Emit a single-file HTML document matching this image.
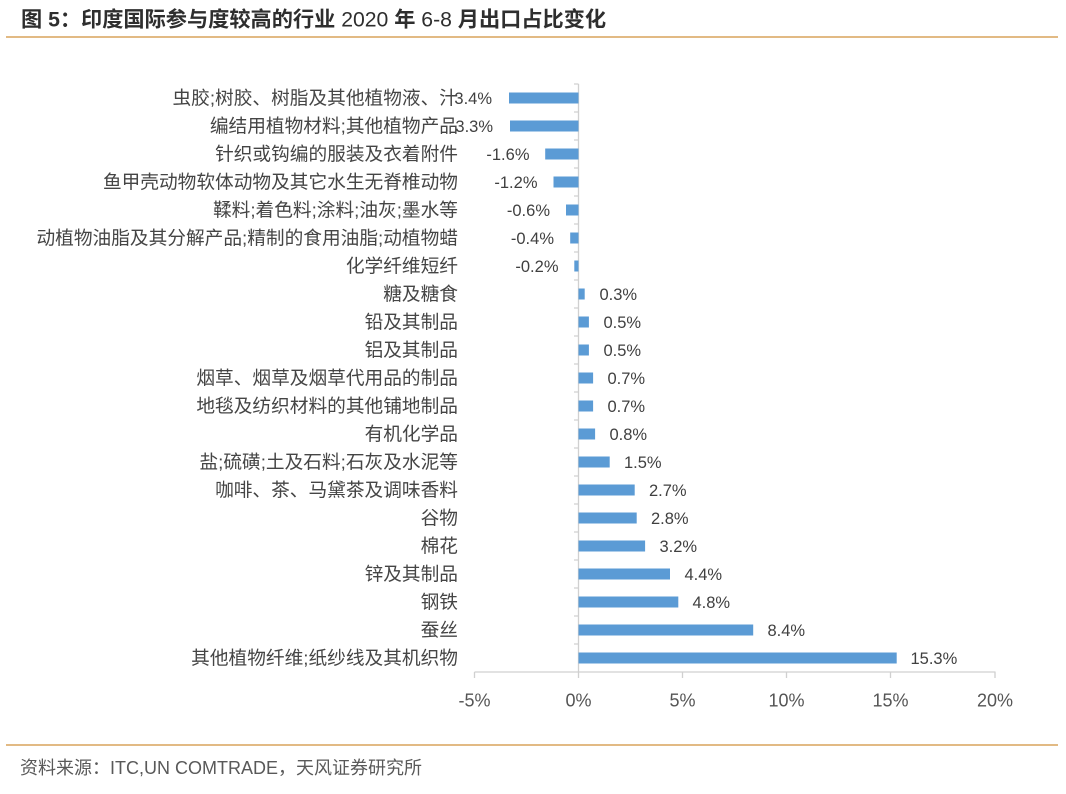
<!DOCTYPE html>
<html><head><meta charset="utf-8"><style>
html,body{margin:0;padding:0;background:#fff;}
svg{display:block;}
text{font-family:"Liberation Sans","Noto Sans CJK SC",sans-serif;}
</style></head><body>
<svg width="1066" height="794" viewBox="0 0 1066 794" xmlns="http://www.w3.org/2000/svg">
<rect width="1066" height="794" fill="#fff"/>
<text x="21" y="26.5" font-size="21.2" font-weight="bold" fill="#2e2e2e">图 5：印度国际参与度较高的行业 <tspan font-weight="normal">2020</tspan> 年 <tspan font-weight="normal">6-8</tspan> 月出口占比变化</text>
<line x1="6" y1="37" x2="1058" y2="37" stroke="#d9a45b" stroke-width="1.5"/>
<line x1="6" y1="745" x2="1058" y2="745" stroke="#d9a45b" stroke-width="1.5"/>
<text x="20" y="774" font-size="18" fill="#595959">资料来源：ITC,UN COMTRADE，天风证券研究所</text>

<!-- axes -->
<g stroke="#d0d0d0" stroke-width="1.3" fill="none">
<line x1="578.5" y1="84" x2="578.5" y2="672"/>
<line x1="474.5" y1="672" x2="995.5" y2="672"/>
<line x1="474.5" y1="672" x2="474.5" y2="678"/>
<line x1="578.5" y1="672" x2="578.5" y2="678"/>
<line x1="682.5" y1="672" x2="682.5" y2="678"/>
<line x1="786.5" y1="672" x2="786.5" y2="678"/>
<line x1="890.5" y1="672" x2="890.5" y2="678"/>
<line x1="995" y1="672" x2="995" y2="678"/>
<path d="M574 84H578.5M574 112H578.5M574 140H578.5M574 168H578.5M574 196H578.5M574 224H578.5M574 252H578.5M574 280H578.5M574 308H578.5M574 336H578.5M574 364H578.5M574 392H578.5M574 420H578.5M574 448H578.5M574 476H578.5M574 504H578.5M574 532H578.5M574 560H578.5M574 588H578.5M574 616H578.5M574 644H578.5"/>
</g>
<g font-size="18" fill="#555" text-anchor="middle">
<text x="474.5" y="706.5">-5%</text>
<text x="578.5" y="706.5">0%</text>
<text x="682.5" y="706.5">5%</text>
<text x="786.5" y="706.5">10%</text>
<text x="890.5" y="706.5">15%</text>
<text x="995" y="706.5">20%</text>
</g>

<!-- bars -->
<g fill="#5b9bd5">
<rect x="509.0" y="92.5" width="69.5" height="11"/>
<rect x="510.0" y="120.5" width="68.5" height="11"/>
<rect x="545.2" y="148.5" width="33.3" height="11"/>
<rect x="553.5" y="176.5" width="25" height="11"/>
<rect x="566.0" y="204.5" width="12.5" height="11"/>
<rect x="570.2" y="232.5" width="8.3" height="11"/>
<rect x="574.3" y="260.5" width="4.2" height="11"/>
<rect x="578.5" y="288.5" width="6.2" height="11"/>
<rect x="578.5" y="316.5" width="10.4" height="11"/>
<rect x="578.5" y="344.5" width="10.4" height="11"/>
<rect x="578.5" y="372.5" width="14.6" height="11"/>
<rect x="578.5" y="400.5" width="14.6" height="11"/>
<rect x="578.5" y="428.5" width="16.6" height="11"/>
<rect x="578.5" y="456.5" width="31.2" height="11"/>
<rect x="578.5" y="484.5" width="56.2" height="11"/>
<rect x="578.5" y="512.5" width="58.2" height="11"/>
<rect x="578.5" y="540.5" width="66.6" height="11"/>
<rect x="578.5" y="568.5" width="91.5" height="11"/>
<rect x="578.5" y="596.5" width="99.8" height="11"/>
<rect x="578.5" y="624.5" width="174.7" height="11"/>
<rect x="578.5" y="652.5" width="318.2" height="11"/>
</g>

<!-- category labels -->
<g font-size="18.7" fill="#454545" text-anchor="end">
<text x="458" y="104.4">虫胶;树胶、树脂及其他植物液、汁</text>
<text x="458" y="132.4">编结用植物材料;其他植物产品</text>
<text x="458" y="160.4">针织或钩编的服装及衣着附件</text>
<text x="458" y="188.4">鱼甲壳动物软体动物及其它水生无脊椎动物</text>
<text x="458" y="216.4">鞣料;着色料;涂料;油灰;墨水等</text>
<text x="458" y="244.4">动植物油脂及其分解产品;精制的食用油脂;动植物蜡</text>
<text x="458" y="272.4">化学纤维短纤</text>
<text x="458" y="300.4">糖及糖食</text>
<text x="458" y="328.4">铅及其制品</text>
<text x="458" y="356.4">铝及其制品</text>
<text x="458" y="384.4">烟草、烟草及烟草代用品的制品</text>
<text x="458" y="412.4">地毯及纺织材料的其他铺地制品</text>
<text x="458" y="440.4">有机化学品</text>
<text x="458" y="468.4">盐;硫磺;土及石料;石灰及水泥等</text>
<text x="458" y="496.4">咖啡、茶、马黛茶及调味香料</text>
<text x="458" y="524.4">谷物</text>
<text x="458" y="552.4">棉花</text>
<text x="458" y="580.4">锌及其制品</text>
<text x="458" y="608.4">钢铁</text>
<text x="458" y="636.4">蚕丝</text>
<text x="458" y="664.4">其他植物纤维;纸纱线及其机织物</text>
</g>

<!-- value labels -->
<g font-size="16.5" fill="#404040">
<g text-anchor="end">
<text x="492" y="104">3.4%</text>
<text x="493" y="132">3.3%</text>
<text x="529.5" y="160">-1.6%</text>
<text x="537.5" y="188">-1.2%</text>
<text x="550" y="216">-0.6%</text>
<text x="554" y="244">-0.4%</text>
<text x="558.5" y="272">-0.2%</text>
</g>
<text x="599.5" y="300">0.3%</text>
<text x="603.5" y="328">0.5%</text>
<text x="603.5" y="356">0.5%</text>
<text x="607.5" y="384">0.7%</text>
<text x="607.5" y="412">0.7%</text>
<text x="609.5" y="440">0.8%</text>
<text x="624" y="468">1.5%</text>
<text x="649" y="496">2.7%</text>
<text x="651" y="524">2.8%</text>
<text x="659.5" y="552">3.2%</text>
<text x="684.5" y="580">4.4%</text>
<text x="692.5" y="608">4.8%</text>
<text x="767.5" y="636">8.4%</text>
<text x="910.5" y="664">15.3%</text>
</g>
</svg>
</body></html>
